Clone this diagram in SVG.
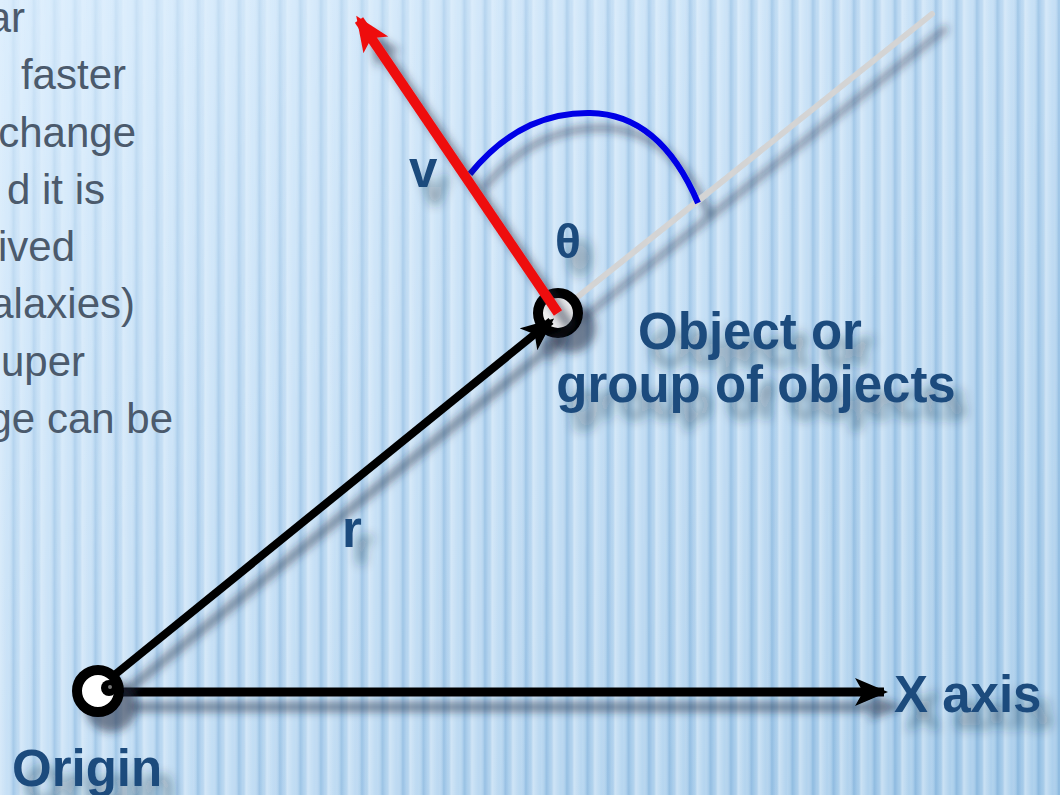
<svg xmlns="http://www.w3.org/2000/svg" width="1060" height="795" viewBox="0 0 1060 795">
  <defs>
    <style>
      .lbl { font-family: "Liberation Sans", Arial, sans-serif; font-weight: bold; font-size: 51px; fill: #1f4b7d; }
      .body { font-family: "Liberation Sans", Arial, sans-serif; font-size: 42px; fill: #4b5a6c; text-anchor: end; }
    </style>
    <linearGradient id="bg" x1="0" y1="0" x2="1" y2="1">
      <stop offset="0" stop-color="#dceefd"/>
      <stop offset="0.5" stop-color="#c6e0f6"/>
      <stop offset="1" stop-color="#abcfec"/>
    </linearGradient>
    <linearGradient id="stripeG" x1="0" y1="0" x2="1" y2="0">
      <stop offset="0" stop-color="#ffffff" stop-opacity="0.35"/>
      <stop offset="0.35" stop-color="#ffffff" stop-opacity="0"/>
      <stop offset="0.65" stop-color="#5d98cc" stop-opacity="0.4"/>
      <stop offset="0.85" stop-color="#5d98cc" stop-opacity="0.1"/>
      <stop offset="1" stop-color="#ffffff" stop-opacity="0.35"/>
    </linearGradient>
    <pattern id="stripes" x="0" y="0" width="20.5" height="40" patternUnits="userSpaceOnUse">
      <rect width="20.5" height="40" fill="url(#stripeG)"/>
    </pattern>
    <linearGradient id="fadeG" x1="0" y1="0" x2="1" y2="0.8">
      <stop offset="0" stop-color="#fff" stop-opacity="0.25"/>
      <stop offset="0.45" stop-color="#fff" stop-opacity="0.8"/>
      <stop offset="1" stop-color="#fff" stop-opacity="1"/>
    </linearGradient>
    <mask id="fade">
      <rect width="1060" height="795" fill="url(#fadeG)"/>
    </mask>
    <filter id="sh" filterUnits="userSpaceOnUse" x="0" y="0" width="1060" height="795">
      <feDropShadow dx="13" dy="15" stdDeviation="4" flood-color="#1c2c3c" flood-opacity="0.55"/>
    </filter>
    <filter id="tsh" filterUnits="userSpaceOnUse" x="0" y="0" width="1060" height="795">
      <feDropShadow dx="12" dy="17" stdDeviation="5.5" flood-color="#1c2c3c" flood-opacity="0.45"/>
    </filter>
    <marker id="ahBlack" markerUnits="userSpaceOnUse" markerWidth="34" markerHeight="30" refX="29" refY="14" orient="auto">
      <path d="M0,0 L33,14 L0,28 L8,14 z" fill="#000"/>
    </marker>
    <marker id="ahRed" markerUnits="userSpaceOnUse" markerWidth="36" markerHeight="32" refX="30" refY="15" orient="auto">
      <path d="M0,0 L35,15 L0,30 L8,15 z" fill="#ee1111"/>
    </marker>
  </defs>

  <!-- background -->
  <rect width="1060" height="795" fill="url(#bg)"/>
  <rect width="1060" height="795" fill="url(#stripes)" mask="url(#fade)"/>

  <!-- body text (clipped at left edge, as in the reference) -->
  <g id="body-text">
    <text class="body" x="25" y="32">ar</text>
    <text class="body" x="126" y="89">faster</text>
    <text class="body" x="136" y="147">change</text>
    <text class="body" x="105" y="204">d it is</text>
    <text class="body" x="75" y="261">ived</text>
    <text class="body" x="135" y="318">alaxies)</text>
    <text class="body" x="85" y="376">uper</text>
    <text class="body" x="173" y="433">ge can be</text>
  </g>

  <!-- connectors -->
  <g id="connectors" filter="url(#sh)" fill="none">
    <line id="x-axis" x1="118" y1="692" x2="884" y2="692" stroke="#000" stroke-width="9" marker-end="url(#ahBlack)"/>
    <line id="ref-line" x1="570" y1="303" x2="932" y2="14" stroke="#d4d4d4" stroke-width="6" stroke-linecap="round"/>
    <path id="theta-arc" d="M470,174 Q520,112 590,113 Q660,114 698,203" stroke="#0000e6" stroke-width="6"/>
  </g>

  <g id="object" filter="url(#sh)">
    <circle cx="558" cy="313" r="20" fill="#f0f0f0" stroke="#000" stroke-width="10"/>
  </g>

  <g id="connectors-2" filter="url(#sh)" fill="none">
    <line id="r-vector" x1="112" y1="677" x2="551" y2="321" stroke="#000" stroke-width="8" marker-end="url(#ahBlack)"/>
    <line id="v-vector" x1="558" y1="313" x2="359" y2="20" stroke="#ee1111" stroke-width="10" marker-end="url(#ahRed)"/>
  </g>

  <g id="origin" filter="url(#sh)">
    <circle cx="98" cy="691" r="21" fill="#ffffff" stroke="#000" stroke-width="10"/>
    <circle cx="109" cy="688" r="8" fill="#000"/>
    <circle cx="110" cy="687" r="2" fill="#777"/>
  </g>

  <!-- labels -->
  <g id="labels" filter="url(#tsh)">
    <text class="lbl" x="409" y="187">v</text>
    <text class="lbl" x="568" y="258" text-anchor="middle" style="font-size:48px">θ</text>
    <text class="lbl" x="342" y="547">r</text>
    <text class="lbl" x="750" y="349" text-anchor="middle">Object or</text>
    <text class="lbl" x="756" y="402" text-anchor="middle">group of objects</text>
    <text class="lbl" x="894" y="712">X axis</text>
    <text class="lbl" x="12" y="786">Origin</text>
  </g>
</svg>
